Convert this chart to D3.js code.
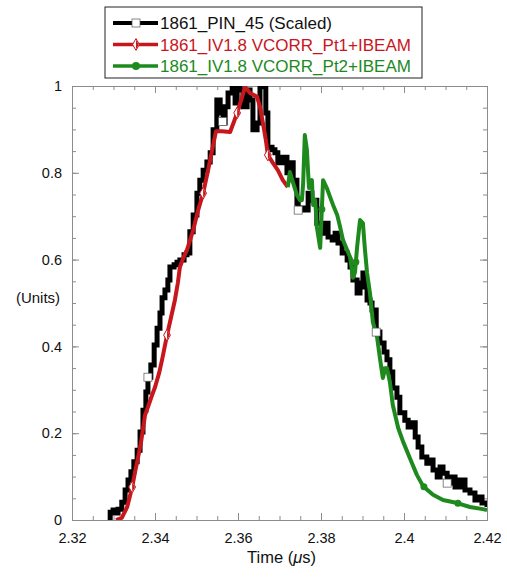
<!DOCTYPE html>
<html>
<head>
<meta charset="utf-8">
<script src="https://cdn.jsdelivr.net/npm/d3@7"></script>
<style>
  body { margin: 0; background: #fff; }
  svg { font-family: "Liberation Sans", Arial, Helvetica, sans-serif; }
</style>
</head>
<body>
<script>
// series: time (us), value (units)
const pinTime = [2.3287,2.3292,2.3299,2.3304,2.3311,2.3320,2.3328,2.3335,2.3342,2.3349,2.3357,2.3364,2.3371,2.3378,2.3383,2.3390,2.3398,2.3405,2.3412,2.3417,2.3424,2.3431,2.3436,2.3446,2.3453,2.3460,2.3470,2.3477,2.3484,2.3492,2.3501,2.3508,2.3516,2.3525,2.3533,2.3540,2.3549,2.3557,2.3564,2.3569,2.3576,2.3586,2.3593,2.3598,2.3605,2.3612,2.3622,2.3629,2.3636,2.3646,2.3653,2.3660,2.3667,2.3672,2.3682,2.3689,2.3696,2.3706,2.3718,2.3725,2.3733,2.3742,2.3745,2.3754,2.3761,2.3769,2.3778,2.3790,2.3802,2.3810,2.3817,2.3827,2.3834,2.3841,2.3851,2.3863,2.3870,2.3877,2.3887,2.3894,2.3901,2.3906,2.3911,2.3918,2.3923,2.3933,2.3942,2.3952,2.3959,2.3966,2.3973,2.3983,2.3990,2.4002,2.4010,2.4019,2.4027,2.4034,2.4043,2.4055,2.4063,2.4070,2.4080,2.4087,2.4094,2.4104,2.4116,2.4123,2.4135,2.4147,2.4159,2.4171,2.4178,2.4188,2.4200];
const pinValue = [0.000,0.018,0.023,0.016,0.025,0.041,0.069,0.092,0.111,0.134,0.161,0.203,0.253,0.295,0.329,0.357,0.403,0.442,0.477,0.512,0.530,0.553,0.583,0.588,0.594,0.599,0.611,0.615,0.664,0.703,0.753,0.783,0.806,0.825,0.846,0.899,0.968,0.938,0.915,0.952,0.984,1.009,0.961,0.998,0.991,0.952,0.991,0.968,0.899,0.915,0.998,1.009,0.938,0.859,0.853,0.846,0.823,0.836,0.800,0.823,0.783,0.730,0.714,0.719,0.714,0.753,0.737,0.684,0.661,0.684,0.652,0.645,0.661,0.638,0.615,0.599,0.583,0.553,0.523,0.546,0.569,0.537,0.507,0.500,0.484,0.433,0.408,0.387,0.369,0.341,0.304,0.283,0.247,0.230,0.214,0.224,0.191,0.168,0.145,0.131,0.138,0.115,0.099,0.122,0.108,0.085,0.099,0.076,0.092,0.069,0.062,0.046,0.053,0.039,0.030];

const pt1Time = [2.3306,2.3320,2.3333,2.3345,2.3352,2.3359,2.3366,2.3376,2.3383,2.3393,2.3400,2.3410,2.3417,2.3429,2.3441,2.3448,2.3455,2.3460,2.3470,2.3477,2.3492,2.3504,2.3516,2.3528,2.3540,2.3547,2.3561,2.3581,2.3590,2.3598,2.3610,2.3617,2.3629,2.3646,2.3653,2.3660,2.3667,2.3672,2.3684,2.3696,2.3708,2.3720];
const pt1Value = [0.000,0.005,0.030,0.076,0.111,0.143,0.177,0.242,0.260,0.288,0.306,0.339,0.369,0.426,0.477,0.507,0.546,0.583,0.608,0.622,0.668,0.714,0.753,0.806,0.864,0.896,0.896,0.894,0.917,0.938,0.975,0.998,0.984,0.975,0.952,0.915,0.876,0.841,0.823,0.806,0.783,0.767];

const pt2Time = [2.3720,2.3725,2.3733,2.3742,2.3749,2.3754,2.3757,2.3761,2.3766,2.3771,2.3778,2.3781,2.3786,2.3790,2.3798,2.3805,2.3814,2.3822,2.3829,2.3839,2.3846,2.3853,2.3863,2.3870,2.3877,2.3882,2.3887,2.3894,2.3901,2.3906,2.3911,2.3918,2.3925,2.3935,2.3942,2.3949,2.3954,2.3959,2.3966,2.3973,2.3986,2.3998,2.4014,2.4031,2.4046,2.4070,2.4094,2.4128,2.4159,2.4190,2.4200];
const pt2Value = [0.767,0.802,0.776,0.749,0.737,0.737,0.776,0.887,0.853,0.765,0.783,0.726,0.737,0.675,0.627,0.783,0.765,0.744,0.726,0.703,0.675,0.645,0.622,0.606,0.558,0.571,0.629,0.691,0.684,0.622,0.569,0.523,0.456,0.422,0.373,0.327,0.346,0.350,0.318,0.265,0.212,0.180,0.143,0.104,0.078,0.058,0.046,0.039,0.030,0.025,0.023];

// where the symbols sit along each curve
const pinMarkTimes = [2.3383, 2.3563, 2.3745, 2.3933, 2.4104];
const pt1MarkTimes = [2.3345, 2.3429, 2.3516, 2.3598, 2.3672];
const pt2MarkTimes = [2.3802, 2.3884, 2.3954, 2.4048, 2.4130];

const legendLabels = ["1861_PIN_45 (Scaled)", "1861_IV1.8 VCORR_Pt1+IBEAM", "1861_IV1.8 VCORR_Pt2+IBEAM"];
const xTicks = [2.32, 2.34, 2.36, 2.38, 2.4, 2.42];
const yTicks = [0, 0.2, 0.4, 0.6, 0.8, 1];

const black = "#000000", red = "#c8161d", green = "#1e8a1e", axisGrey = "#8c8c8c";

const margin = {top: 86, right: 20, bottom: 59, left: 72},
    width = 507 - margin.left - margin.right,
    height = 579 - margin.top - margin.bottom;

const x = d3.scaleLinear().domain([2.32, 2.42]).range([0, width]);
const y = d3.scaleLinear().domain([0, 1]).range([height, 0]);

const svg = d3.select("body").append("svg")
    .attr("width", 507)
    .attr("height", 579);
const g = svg.append("g")
    .attr("transform", "translate(" + margin.left + "," + margin.top + ")");

g.append("defs").append("clipPath").attr("id", "plotclip")
  .append("rect").attr("x", 0).attr("y", 0).attr("width", width).attr("height", height);

// frame with inward ticks on all four sides
const minorX = d3.range(2.32, 2.4201, 0.005);
const minorY = d3.range(0, 1.0001, 0.05);
function frameAxis(axis, tr) {
  const a = g.append("g").attr("transform", tr).call(axis);
  a.selectAll("path, line").attr("stroke", axisGrey);
  a.selectAll("text").remove();
  return a;
}
frameAxis(d3.axisBottom(x).tickValues(minorX).tickSize(-4).tickSizeOuter(0), "translate(0," + height + ")");
frameAxis(d3.axisBottom(x).tickValues(xTicks).tickSize(-7).tickSizeOuter(0), "translate(0," + height + ")");
frameAxis(d3.axisTop(x).tickValues(minorX).tickSize(-4).tickSizeOuter(0), "translate(0,0)");
frameAxis(d3.axisTop(x).tickValues(xTicks).tickSize(-7).tickSizeOuter(0), "translate(0,0)");
frameAxis(d3.axisLeft(y).tickValues(minorY).tickSize(-4).tickSizeOuter(0), "translate(0,0)");
frameAxis(d3.axisLeft(y).tickValues(yTicks).tickSize(-7).tickSizeOuter(0), "translate(0,0)");
frameAxis(d3.axisRight(y).tickValues(minorY).tickSize(-4).tickSizeOuter(0), "translate(" + width + ",0)");
frameAxis(d3.axisRight(y).tickValues(yTicks).tickSize(-7).tickSizeOuter(0), "translate(" + width + ",0)");

// tick labels
const xLab = g.append("g").attr("transform", "translate(0," + height + ")")
    .call(d3.axisBottom(x).tickValues(xTicks).tickSize(0).tickPadding(13).tickFormat(d3.format("")));
xLab.select(".domain").remove();
xLab.selectAll("text").attr("font-size", 14.5).attr("fill", "#111").attr("font-family", null);

const yLab = g.append("g")
    .call(d3.axisLeft(y).tickValues(yTicks).tickSize(0).tickPadding(10).tickFormat(d3.format("")));
yLab.select(".domain").remove();
yLab.selectAll("text").attr("font-size", 14.5).attr("fill", "#111").attr("font-family", null);

// axis titles
svg.append("text").attr("x", 38).attr("y", 303).attr("text-anchor", "middle")
   .attr("font-size", 15).attr("fill", "#111").text("(Units)");
const xt = svg.append("text").attr("x", margin.left + width / 2 + 2).attr("y", 563)
   .attr("text-anchor", "middle").attr("font-size", 16.5).attr("fill", "#111");
xt.append("tspan").text("Time (");
xt.append("tspan").attr("font-style", "italic").text("\u03bc");
xt.append("tspan").text("s)");

// curves
const plot = g.append("g").attr("clip-path", "url(#plotclip)");
function series(t, v) { return t.map((d, i) => ({t: d, v: v[i]})); }
const pinData = series(pinTime, pinValue);
const pt1Data = series(pt1Time, pt1Value);
const pt2Data = series(pt2Time, pt2Value);

const stepLine = d3.line().x(d => x(d.t)).y(d => y(d.v)).curve(d3.curveStepAfter);
const smoothLine = d3.line().x(d => x(d.t)).y(d => y(d.v));

plot.append("path").datum(pinData).attr("d", stepLine)
    .attr("fill", "none").attr("stroke", black).attr("stroke-width", 5).attr("stroke-linejoin", "miter");
plot.append("path").datum(pt1Data).attr("d", smoothLine)
    .attr("fill", "none").attr("stroke", red).attr("stroke-width", 4).attr("stroke-linejoin", "round");
plot.append("path").datum(pt2Data).attr("d", smoothLine)
    .attr("fill", "none").attr("stroke", green).attr("stroke-width", 4).attr("stroke-linejoin", "round");

const bis = d3.bisector(d => d.t).left;
function valueAt(data, t) {
  const i = Math.max(1, Math.min(data.length - 1, bis(data, t)));
  const a = data[i - 1], b = data[i];
  const k = (t - a.t) / (b.t - a.t);
  return a.v + (b.v - a.v) * Math.max(0, Math.min(1, k));
}

// markers
pinMarkTimes.forEach(t => {
  plot.append("rect").attr("x", x(t) - 4).attr("y", y(valueAt(pinData, t)) - 4)
      .attr("width", 8).attr("height", 8).attr("fill", "#fff").attr("stroke", "#555").attr("stroke-width", 0.7);
});
const diamond = d3.symbol().type(d3.symbolDiamond).size(40);
pt1MarkTimes.forEach(t => {
  const cx = x(t), cy = y(valueAt(pt1Data, t));
  plot.append("path").attr("d", diamond)
      .attr("transform", "translate(" + cx + "," + cy + ")")
      .attr("fill", "#fff").attr("stroke", red).attr("stroke-width", 1);
  plot.append("path").attr("d", "M0,-4.8 L2.8,0 L0,4.8 Z")
      .attr("transform", "translate(" + cx + "," + cy + ")").attr("fill", red);
});
pt2MarkTimes.forEach(t => {
  plot.append("circle").attr("cx", x(t)).attr("cy", y(valueAt(pt2Data, t))).attr("r", 3.5)
      .attr("fill", green);
});

// legend
const leg = svg.append("g").attr("transform", "translate(105,7)");
leg.append("rect").attr("width", 317).attr("height", 71)
   .attr("fill", "#fff").attr("stroke", "#222").attr("stroke-width", 1);
const legColors = [black, red, green];
legendLabels.forEach((lab, i) => {
  const ry = 16 + i * 21.5;
  leg.append("line").attr("x1", 8).attr("x2", 53).attr("y1", ry).attr("y2", ry)
     .attr("stroke", legColors[i]).attr("stroke-width", i === 0 ? 4 : 3.5);
  if (i === 0) {
    leg.append("rect").attr("x", 27).attr("y", ry - 4).attr("width", 8).attr("height", 8)
       .attr("fill", "#fff").attr("stroke", "#555").attr("stroke-width", 0.7);
  } else if (i === 1) {
    leg.append("path").attr("d", diamond).attr("transform", "translate(31," + ry + ")")
       .attr("fill", "#fff").attr("stroke", red);
    leg.append("path").attr("d", "M0,-4.8 L2.8,0 L0,4.8 Z").attr("transform", "translate(31," + ry + ")")
       .attr("fill", red);
  } else {
    leg.append("circle").attr("cx", 31).attr("cy", ry).attr("r", 4).attr("fill", green);
  }
  leg.append("text").attr("x", 55).attr("y", ry + 6).attr("font-size", 17)
     .attr("fill", i === 0 ? "#111" : legColors[i]).text(lab);
});
</script>
</body>
</html>
